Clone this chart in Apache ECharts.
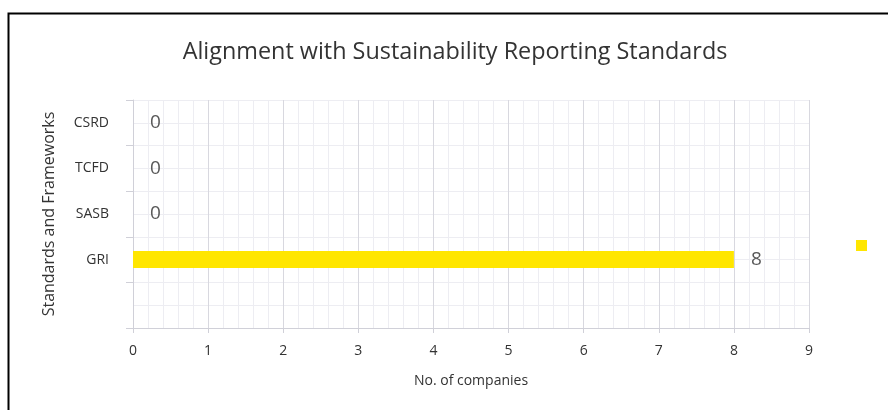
<!DOCTYPE html>
<html>
<head>
<meta charset="utf-8">
<script src="https://cdn.jsdelivr.net/npm/echarts@6/dist/echarts.min.js"></script>
<style>html,body{margin:0;padding:0;background:#fff}#c{width:888px;height:410px}</style>
</head>
<body>
<div id="c"></div>
<script>
var categories = ['', 'GRI', 'SASB', 'TCFD', 'CSRD'];
var companies = [null, 8, 0, 0, 0];
var xTicks = [0, 1, 2, 3, 4, 5, 6, 7, 8, 9];

var FONT = 'Open Sans';
var chart = echarts.init(document.getElementById('c'), null, {renderer: 'canvas'});
chart.setOption({
  animation: false,
  backgroundColor: '#fff',
  textStyle: {fontFamily: FONT},
  title: {
    text: 'Alignment with Sustainability Reporting Standards',
    left: 450, top: 36, textAlign: 'center',
    textStyle: {fontFamily: FONT, fontSize: 23.4, fontWeight: 'normal', color: '#333333'}
  },
  legend: {
    data: [' '], left: 851, top: 235, itemWidth: 11, itemHeight: 11, icon: 'rect',
    textStyle: {fontSize: 1, color: '#fff'}
  },
  graphic: [{
    type: 'rect', shape: {x: 8.5, y: 13.5, width: 1000, height: 600},
    style: {fill: 'none', stroke: '#000', lineWidth: 2}, silent: true
  }],
  grid: {left: 133, right: 79, top: 100, bottom: 82, containLabel: false},
  xAxis: {
    type: 'value', min: xTicks[0], max: xTicks[xTicks.length - 1], interval: 1,
    name: 'No. of companies', nameLocation: 'middle', nameGap: 46,
    nameTextStyle: {fontSize: 14, color: '#333333'},
    axisLine: {show: true, lineStyle: {color: '#d0d0d8'}},
    axisTick: {show: true, length: 5, lineStyle: {color: '#d0d0d8'}},
    axisLabel: {fontSize: 14, color: '#333333', margin: 16},
    splitLine: {show: true, lineStyle: {color: '#d8d8df'}},
    minorTick: {show: false, splitNumber: 5},
    minorSplitLine: {show: true, lineStyle: {color: '#ededf2'}}
  },
  yAxis: [{
    type: 'category', data: categories, boundaryGap: true,
    name: 'Standards and Frameworks', nameLocation: 'middle', nameGap: 76, nameRotate: 90,
    nameTextStyle: {fontSize: 16, color: '#333333'},
    axisLine: {show: true, lineStyle: {color: '#d0d0d8'}},
    axisTick: {show: true, length: 7, alignWithLabel: false, lineStyle: {color: '#d0d0d8'}},
    axisLabel: {fontSize: 14, color: '#333333', margin: 24},
    splitLine: {show: true, lineStyle: {color: '#d8d8df'}}
  }, {
    type: 'value', min: 0, max: 10, interval: 1, position: 'left',
    axisLine: {show: false}, axisTick: {show: false}, axisLabel: {show: false},
    splitLine: {show: true, lineStyle: {color: '#ededf2'}}, z: 0
  }],
  series: [{
    name: ' ', type: 'bar', data: companies, yAxisIndex: 0,
    barWidth: 17,
    itemStyle: {color: '#FFE600'},
    label: {show: true, position: 'right', distance: 17, fontSize: 19, color: '#595959', fontFamily: FONT},
    z: 5
  }]
});
</script>
</body>
</html>
